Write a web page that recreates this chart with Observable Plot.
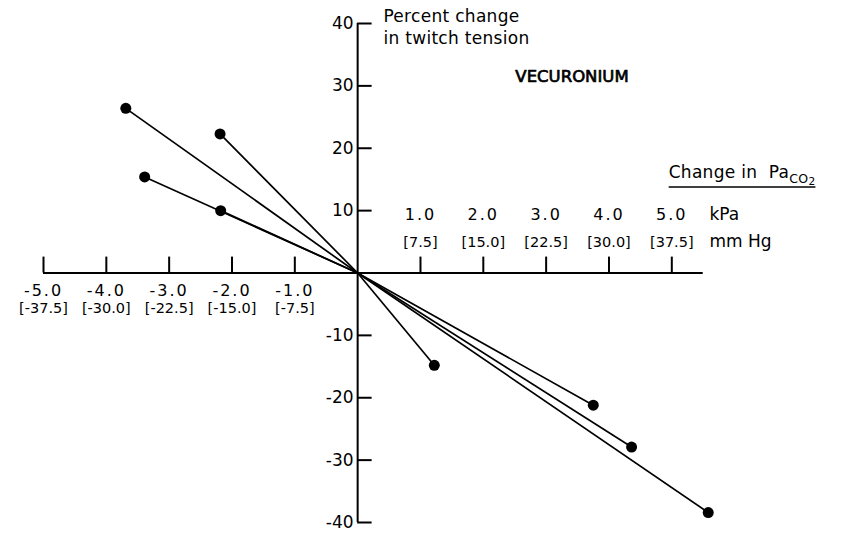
<!DOCTYPE html>
<html>
<head>
<meta charset="utf-8">
<script src="https://cdn.jsdelivr.net/npm/d3@7"></script>
<script src="https://cdn.jsdelivr.net/npm/@observablehq/plot@0.6"></script>
<style>
  html, body { margin: 0; padding: 0; background: #fff; }
  #chart svg { display: block; }
</style>
</head>
<body>
<div id="chart"></div>
<script>
// Change in PaCO2 tick values (kPa) and their mm Hg equivalents
const kpaTicks = [-5, -4, -3, -2, -1, 1, 2, 3, 4, 5];
const mmHgTicks = [-37.5, -30, -22.5, -15, -7.5, 7.5, 15, 22.5, 30, 37.5];
// Percent change in twitch tension ticks
const pctTicks = [40, 30, 20, 10, -10, -20, -30, -40];
// Individual observations (each joined to the origin)
const pco2Change = [-3.69, -2.19, -3.39, -2.18, 1.22, 3.75, 4.36, 5.58];
const twitchChange = [26.4, 22.3, 15.4, 10.0, -14.8, -21.2, -27.9, -38.4];

const points = pco2Change.map((x, i) => ({x, y: twitchChange[i]}));
const xTicks = kpaTicks.map((k, i) => ({k, mm: mmHgTicks[i]}));
const pos = xTicks.filter(d => d.k > 0);
const neg = xTicks.filter(d => d.k < 0);
const FONT = "DejaVu Sans, Liberation Sans, sans-serif";

const plot = Plot.plot({
  width: 844,
  height: 535,
  margin: 0,
  style: {fontFamily: FONT, fontSize: "16px", background: "#fff", color: "#000"},
  x: {domain: [-5, 5.6], range: [43, 709], axis: null},
  y: {domain: [-40, 40], range: [522, 23], axis: null},
  marks: [
    // axes
    Plot.ruleY([0], {x1: -5, x2: 5.5, stroke: "#000", strokeWidth: 2}),
    Plot.ruleX([0], {y1: -40, y2: 40, stroke: "#000", strokeWidth: 2}),
    Plot.ruleX(kpaTicks, {y1: 0, y2: 2.55, stroke: "#000", strokeWidth: 2}),
    Plot.ruleY(pctTicks, {x1: 0, x2: 0.23, stroke: "#000", strokeWidth: 2}),
    // y tick labels
    Plot.text(pctTicks, {x: 0, y: d => d, text: d => String(d), textAnchor: "end", dx: -4, fontSize: 17, fontFamily: FONT}),
    // x tick labels (positive above the axis, negative below)
    Plot.text(pos, {x: "k", y: 0, text: d => d.k.toFixed(1), dy: -58, fontSize: 16, fontFamily: FONT}),
    Plot.text(pos, {x: "k", y: 0, text: d => "[" + d.mm.toFixed(1) + "]", dy: -31, fontSize: 14.5, fontFamily: FONT}),
    Plot.text(neg, {x: "k", y: 0, text: d => d.k.toFixed(1), dy: 18, fontSize: 16, fontFamily: FONT}),
    Plot.text(neg, {x: "k", y: 0, text: d => "[" + d.mm.toFixed(1) + "]", dy: 35, fontSize: 14.5, fontFamily: FONT}),
    // unit labels
    Plot.text(["kPa"], {x: 5.6, y: 0, text: d => d, textAnchor: "start", dy: -58, fontSize: 17, fontFamily: FONT}),
    Plot.text(["mm Hg"], {x: 5.6, y: 0, text: d => d, textAnchor: "start", dy: -31, fontSize: 17, fontFamily: FONT}),
    // titles
    Plot.text(["Percent change\nin twitch tension"], {x: 0.41, y: 42.6, text: d => d, textAnchor: "start", lineAnchor: "top", lineHeight: 1.25, fontSize: 17, fontFamily: FONT}),
    Plot.text(["VECURONIUM"], {x: 2.51, y: 31.5, text: d => d, textAnchor: "start", fontSize: 16.5, fontFamily: FONT, stroke: "#000", strokeWidth: 0.7, fill: "#000"}),
    Plot.text(["Change in  Pa"], {x: 4.95, y: 15.3, text: d => d, textAnchor: "start", lineAnchor: "bottom", fontSize: 17, fontFamily: FONT}),
    // data
    Plot.link(points, {x1: 0, y1: 0, x2: "x", y2: "y", stroke: "#000", strokeWidth: 1.7}),
    Plot.dot(points, {x: "x", y: "y", r: 5.5, fill: "#000", stroke: "none"})
  ]
});

document.getElementById("chart").appendChild(plot);

const svg = d3.select(plot);
// letter spacing for kPa tick labels
svg.selectAll("text").filter(function() { return /^-?\d\.\d$/.test(this.textContent); })
  .attr("letter-spacing", "2px");
svg.selectAll("text").filter(function() {
  return this.textContent.startsWith("Percent change");
}).attr("letter-spacing", "0.3px");
// subscript CO2 and underline
svg.selectAll("text").filter(function() { return this.textContent === "Change in  Pa"; })
  .each(function() {
    const t = d3.select(this).attr("letter-spacing", "0.3px").style("white-space", "pre");
    t.append("tspan").attr("font-size", 12.5).attr("dy", 5).text("CO");
    t.append("tspan").attr("font-size", 10.5).attr("dy", 2).text("2");
    const bb = this.getBBox();
    d3.select(this.parentNode).append("line")
      .attr("transform", this.getAttribute("transform"))
      .attr("x1", bb.x).attr("x2", bb.x + bb.width)
      .attr("y1", bb.y + bb.height + 0.5).attr("y2", bb.y + bb.height + 0.5)
      .attr("stroke", "#000").attr("stroke-width", 1.5);
  });
</script>
</body>
</html>
